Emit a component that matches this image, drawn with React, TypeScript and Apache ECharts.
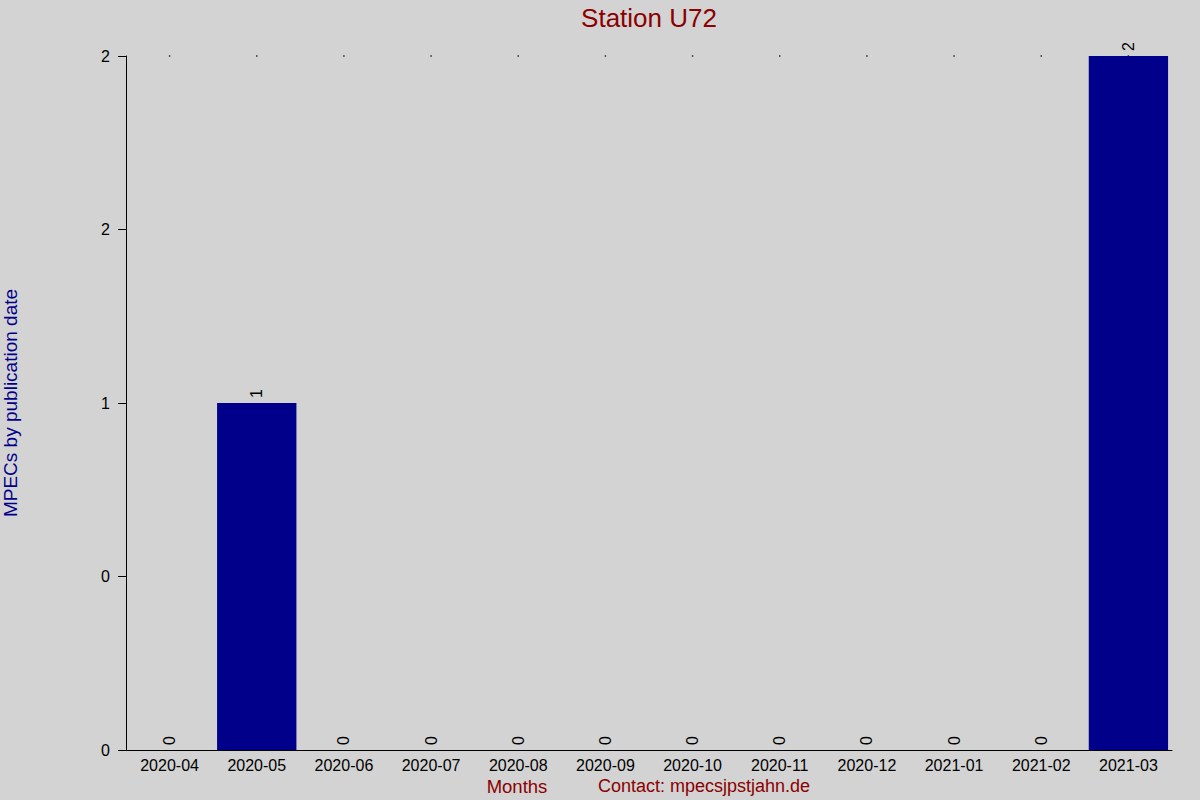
import * as echarts from 'echarts'
import { useEffect, useRef } from 'react'

const months = [
  '2020-04', '2020-05', '2020-06', '2020-07', '2020-08', '2020-09',
  '2020-10', '2020-11', '2020-12', '2021-01', '2021-02', '2021-03',
]
const mpecCounts = [0, 1, 0, 0, 0, 0, 0, 0, 0, 0, 0, 2]
// 刻度 0 / 0.5 / 1 / 1.5 / 2，原图按整数取整显示
const yTickLabels = ['0', '0', '1', '2', '2']
const topDots = months.map(() => 2)

const font = '"Liberation Sans", Arial, sans-serif'
const darkRed = '#8b0000'
const navy = '#00008b'

export default function App() {
  const ref = useRef<HTMLDivElement>(null)

  useEffect(() => {
    if (!ref.current) return
    const chart = echarts.init(ref.current, undefined, { renderer: 'svg' })
    chart.setOption({
      animation: false,
      backgroundColor: '#d3d3d3',
      textStyle: { fontFamily: font },
      grid: { left: 126, right: 28, top: 56, bottom: 50, outerBoundsMode: 'none', containLabel: false },
      graphic: [
        {
          type: 'text',
          x: 649,
          y: 18,
          style: {
            text: 'Station U72',
            fill: darkRed,
            font: `26px ${font}`,
            textAlign: 'center',
            textVerticalAlign: 'middle',
          },
        },
        {
          type: 'text',
          x: 517,
          y: 786,
          style: {
            text: 'Months',
            fill: darkRed,
            font: `18.5px ${font}`,
            textAlign: 'center',
            textVerticalAlign: 'middle',
          },
        },
        {
          type: 'text',
          x: 598,
          y: 786,
          style: {
            text: 'Contact: mpecsjpstjahn.de',
            fill: darkRed,
            font: `18px ${font}`,
            textAlign: 'left',
            textVerticalAlign: 'middle',
          },
        },
      ],
      xAxis: {
        type: 'category',
        data: months,
        axisLine: { lineStyle: { color: '#000', width: 1 } },
        axisTick: { show: false },
        axisLabel: { color: '#000', fontSize: 16, margin: 7, interval: 0, fontFamily: font },
      },
      yAxis: {
        type: 'value',
        min: 0,
        max: 2,
        interval: 0.5,
        name: 'MPECs by publication date',
        nameLocation: 'middle',
        nameGap: 106,
        nameTextStyle: { color: navy, fontSize: 19, fontFamily: font },
        axisLine: { show: true, lineStyle: { color: '#000', width: 1 } },
        axisTick: { show: true, length: 8, lineStyle: { color: '#000' } },
        axisLabel: {
          color: '#000',
          fontSize: 16,
          margin: 16,
          fontFamily: font,
          formatter: (v: number) => yTickLabels[Math.round(v / 0.5)] ?? '',
        },
        splitLine: { show: false },
      },
      series: [
        {
          type: 'bar',
          data: mpecCounts,
          barCategoryGap: '9%',
          itemStyle: { color: navy },
          label: {
            show: true,
            position: 'top',
            rotate: 90,
            distance: 5,
            align: 'left',
            verticalAlign: 'middle',
            color: '#000',
            fontSize: 16,
            fontFamily: font,
          },
        },
        {
          type: 'scatter',
          data: topDots,
          symbol: 'rect',
          symbolSize: 1.5,
          itemStyle: { color: '#000' },
          z: 1,
        },
      ],
    })
    return () => chart.dispose()
  }, [])

  return <div ref={ref} style={{ width: 1200, height: 800, position: 'absolute', left: 0, top: 0 }} />
}
